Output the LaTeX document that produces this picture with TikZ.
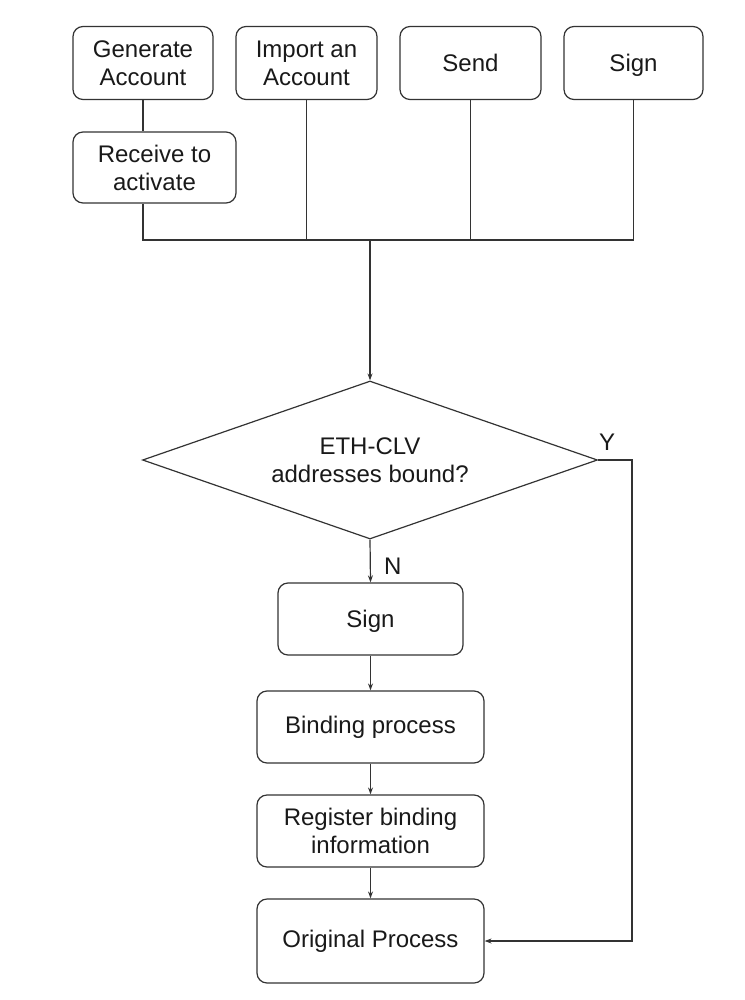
\documentclass[tikz,border=0pt]{standalone}
\usepackage{fontspec}
\setmainfont{Liberation Sans}
\usetikzlibrary{shapes.geometric,arrows.meta}

\begin{document}
\begin{tikzpicture}[x=1pt,y=-1pt,line width=1.2pt,draw=black!80,
        >={Stealth[length=7pt,width=5pt]}]
        \tikzstyle{every node} = [font=\fontsize{24}{28}\selectfont, align=center, text=black!90]
        \tikzstyle{box} = [rectangle, draw, rounded corners=10pt, minimum height=73pt]
        \useasboundingbox (0,0) rectangle (744,1000);
        % top row
        \node[box, minimum width=140pt] (gen) at (143,63) {Generate\\Account};
        \node[box, minimum width=141pt] (imp) at (306.5,63) {Import an\\Account};
        \node[box, minimum width=141pt] (send) at (470.5,63) {Send};
        \node[box, minimum width=139pt, text depth=0pt] (sign) at (633.5,63) {Sign};
        \node[box, minimum width=163pt, minimum height=71pt] (recv) at (154.5,167.5) {Receive to\\activate};
        % decision
        \node[diamond, draw, aspect=2.88, inner sep=0pt, minimum width=455pt, minimum height=158pt] (cond) at (370,460) {ETH-CLV\\addresses bound?};
        % lower column
        \node[box, minimum width=185pt, minimum height=72pt, text depth=0pt] (sig2) at (370.5,619) {Sign};
        \node[box, minimum width=227pt, minimum height=72pt] (bind) at (370.5,727) {Binding process};
        \node[box, minimum width=227pt, minimum height=72pt] (reg) at (370.5,831) {Register binding\\information};
        \node[box, minimum width=227pt, minimum height=84pt] (orig) at (370.5,941) {Original Process};
        \coordinate (bus) at (370,240);
        \coordinate (loop) at (632,460);
        \draw (gen.south) -- (gen.south |- recv.north);
        \draw (gen.south |- recv.south) -- (gen.south |- bus) -- (sign.south |- bus) -- (sign.south);
        \foreach \n in {imp, send}
            \draw (\n.south) -- (\n.south |- bus);
        \draw[->] (bus) -- (cond.north);
        \draw[->] (cond.south) -- node[right, xshift=10pt, yshift=-5pt] {N} (sig2.north);
        \draw[->] (cond.east) -- (loop) -- (loop |- orig.east) -- (orig.east);
        \node (yes) at (607,442) {Y};
        \foreach \from/\to in {sig2/bind, bind/reg, reg/orig}
            \draw[->] (\from) -- (\to);
    \end{tikzpicture}
\end{document}
